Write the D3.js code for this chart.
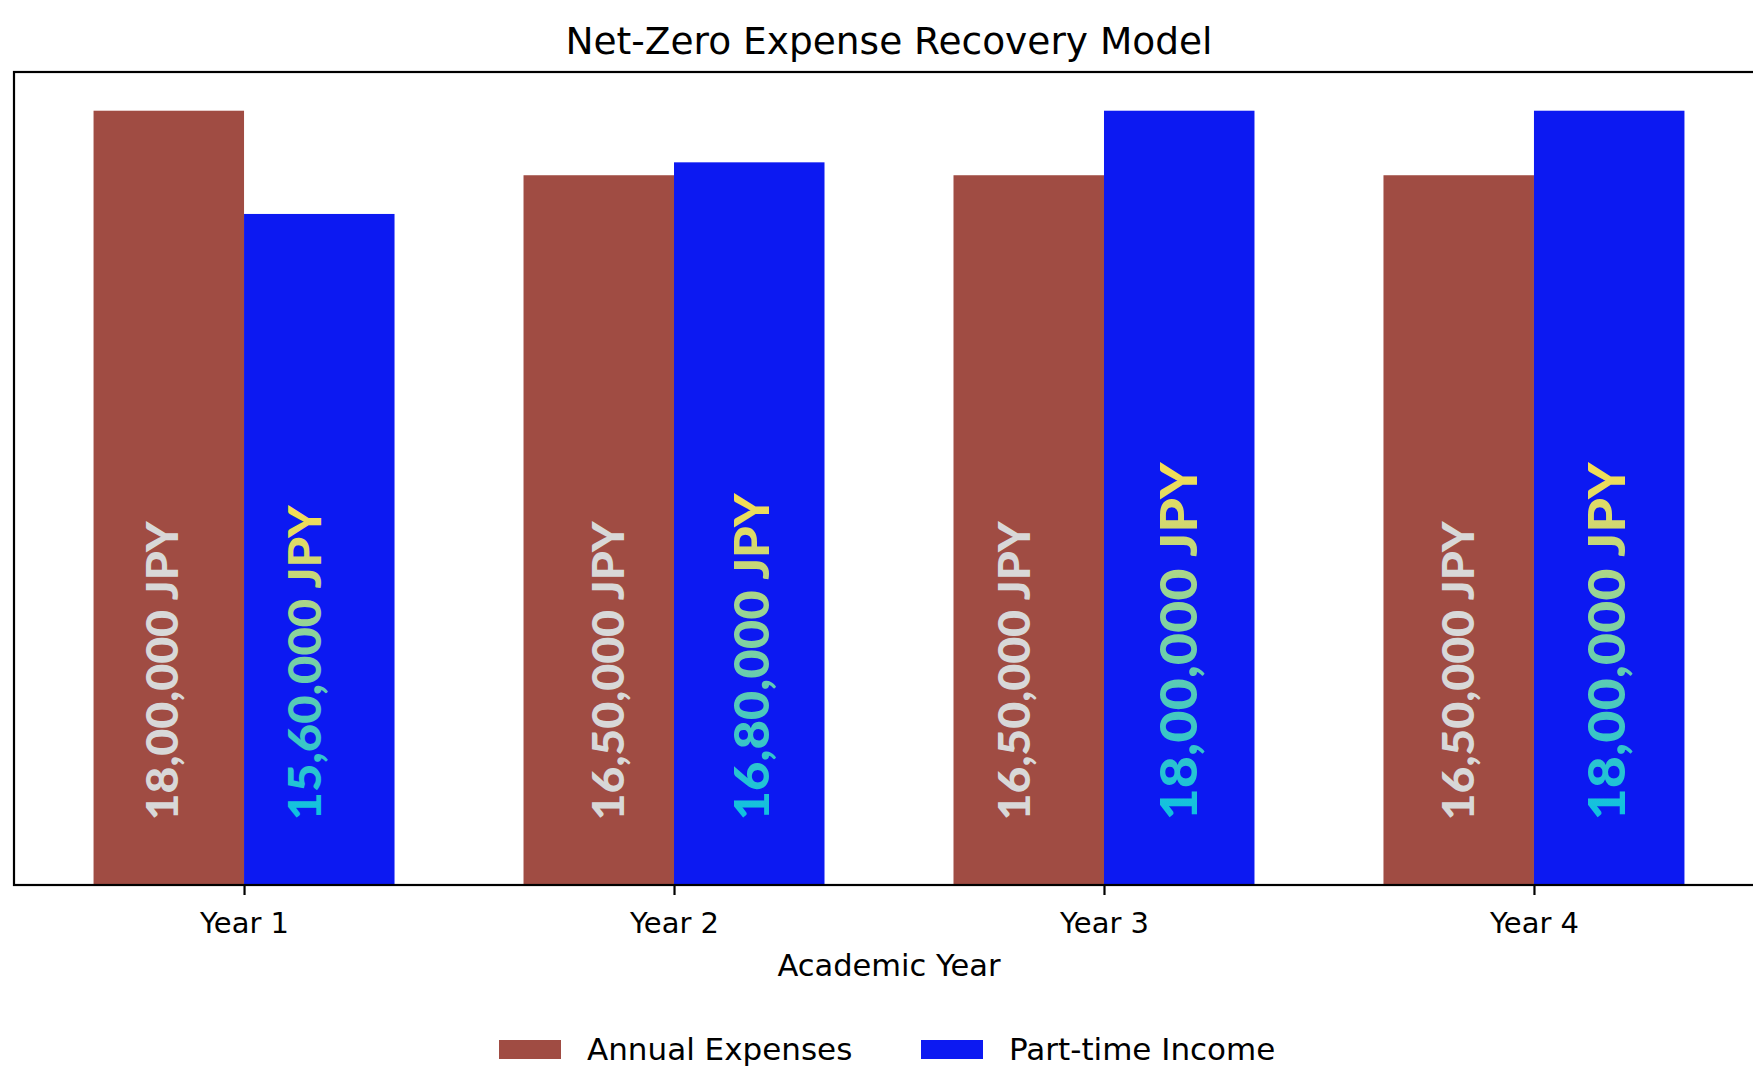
<!DOCTYPE html>
<html>
<head>
<meta charset="utf-8">
<script src="https://cdn.jsdelivr.net/npm/d3@7/dist/d3.min.js"></script>
<style>
  body { margin: 0; background: #fff; }
  svg { display: block; font-family: "DejaVu Sans", sans-serif; }
</style>
</head>
<body>
<div class="chart"></div>
<script>
const years = ['Year 1', 'Year 2', 'Year 3', 'Year 4'];
const expenses = [1800000, 1650000, 1650000, 1650000];
const income = [1560000, 1680000, 1800000, 1800000];
const seriesNames = ['Annual Expenses', 'Part-time Income'];
// labels drift a little off the bar centres in the picture (category units)
const expShift = [-0.014, 0.023, -0.033, 0];
const incShift = [-0.033, 0.007, -0.002, -0.007];

const width = 1753, height = 1067;
const expColor = '#a04c43';
const incColor = '#0c19f2';
const barW = 0.35;
const labelBase = 150000;
const stretch = 1.08;

// lakh style grouping: 18,00,000
function fmtLakh(v) {
    const s = String(v);
    const last3 = s.slice(-3);
    const rest = s.slice(0, -3).replace(/\B(?=(\d{2})+(?!\d))/g, ',');
    return (rest ? rest + ',' : '') + last3 + ' JPY';
}

const svg = d3.select('.chart').append('svg')
    .attr('width', width)
    .attr('height', height);

const defs = svg.append('defs');
const grad = defs.append('linearGradient')
    .attr('id', 'incGrad')
    .attr('x1', 0).attr('y1', 0).attr('x2', 1).attr('y2', 0);
[['0%', '#0cc0e2'], ['30%', '#45c8c0'], ['60%', '#8ed39a'], ['80%', '#cdd874'], ['100%', '#f7de52']]
    .forEach(([o, c]) => grad.append('stop').attr('offset', o).attr('stop-color', c));

const xScale = d3.scaleLinear()
    .domain([-0.535, years.length - 1 + 0.535])
    .range([14, 1764]);

const yMax = d3.max(expenses.concat(income)) * 1.05;
const yScale = d3.scaleLinear()
    .domain([0, yMax])
    .range([885, 72]);

const incSize = d3.scaleLinear()
    .domain([1560000, 1680000, 1800000])
    .range([45.3, 47, 51.5]);

// bars
const g = svg.append('g');
g.selectAll('.exp').data(expenses).enter().append('rect')
    .attr('class', 'exp')
    .attr('x', (d, i) => xScale(i - barW))
    .attr('width', xScale(barW) - xScale(0))
    .attr('y', d => yScale(d))
    .attr('height', d => yScale(0) - yScale(d))
    .attr('fill', expColor);

g.selectAll('.inc').data(income).enter().append('rect')
    .attr('class', 'inc')
    .attr('x', (d, i) => xScale(i))
    .attr('width', xScale(barW) - xScale(0))
    .attr('y', d => yScale(d))
    .attr('height', d => yScale(0) - yScale(d))
    .attr('fill', incColor);

// value labels, heavy and a touch wider along the reading direction
g.selectAll('.expLabel').data(expenses).enter().append('text')
    .attr('class', 'expLabel')
    .attr('transform', (d, i) => `translate(${xScale(i - barW / 2 + expShift[i])},${yScale(labelBase)}) rotate(-90) scale(${stretch},1)`)
    .attr('dy', '0.36em')
    .attr('text-anchor', 'start')
    .attr('font-family', 'Lato, sans-serif')
    .attr('font-weight', 900)
    .attr('font-size', 43)
    .attr('fill', '#d8d8d8')
    .text(d => fmtLakh(d));

g.selectAll('.incLabel').data(income).enter().append('text')
    .attr('class', 'incLabel')
    .attr('transform', (d, i) => `translate(${xScale(i + barW / 2 + incShift[i])},${yScale(labelBase)}) rotate(-90) scale(${stretch},1)`)
    .attr('dy', '0.36em')
    .attr('text-anchor', 'start')
    .attr('font-family', 'Lato, sans-serif')
    .attr('font-weight', 900)
    .attr('font-size', d => incSize(d))
    .attr('fill', 'url(#incGrad)')
    .text(d => fmtLakh(d));

// frame
svg.append('rect')
    .attr('x', xScale.range()[0])
    .attr('y', yScale.range()[1])
    .attr('width', xScale.range()[1] - xScale.range()[0])
    .attr('height', yScale.range()[0] - yScale.range()[1])
    .attr('fill', 'none')
    .attr('stroke', '#000')
    .attr('stroke-width', 2.2);

// x axis
const xAxis = svg.append('g')
    .attr('transform', `translate(0,${yScale(0)})`)
    .call(d3.axisBottom(xScale)
        .tickValues(d3.range(years.length))
        .tickFormat(i => years[i])
        .tickSize(10)
        .tickPadding(17));
xAxis.select('.domain').remove();
xAxis.selectAll('.tick line').attr('stroke', '#000').attr('stroke-width', 2.2);
xAxis.selectAll('.tick text')
    .attr('fill', '#000')
    .attr('font-size', 29)
    .attr('font-family', '"DejaVu Sans", sans-serif');

// title and axis label
svg.append('text')
    .attr('x', (xScale.range()[0] + xScale.range()[1]) / 2)
    .attr('y', 54)
    .attr('text-anchor', 'middle')
    .attr('font-size', 37.5)
    .attr('fill', '#000')
    .text('Net-Zero Expense Recovery Model');

svg.append('text')
    .attr('x', (xScale.range()[0] + xScale.range()[1]) / 2)
    .attr('y', 976)
    .attr('text-anchor', 'middle')
    .attr('font-size', 30.5)
    .attr('fill', '#000')
    .text('Academic Year');

// legend
const legend = svg.append('g').attr('transform', 'translate(499,1040)');
const legendItems = [
    { name: seriesNames[0], color: expColor, x: 0 },
    { name: seriesNames[1], color: incColor, x: 422 }
];
const li = legend.selectAll('.item').data(legendItems).enter().append('g')
    .attr('transform', d => `translate(${d.x},0)`);
li.append('rect')
    .attr('width', 62)
    .attr('height', 19)
    .attr('fill', d => d.color);
li.append('text')
    .attr('x', 88)
    .attr('y', 20)
    .attr('font-size', 31)
    .attr('fill', '#000')
    .text(d => d.name);
</script>
</body>
</html>
